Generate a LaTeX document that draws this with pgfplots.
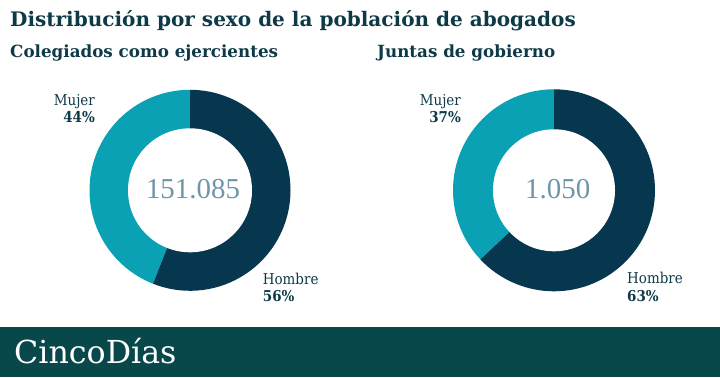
\documentclass[border=0pt]{standalone}
\usepackage{pgfplots}
\pgfplotsset{compat=1.18}
\usepackage{pgfplotstable}
\usepackage{fontspec}
\setmainfont{DejaVu Serif Condensed}
\newfontfamily\wide{DejaVu Serif}
\newfontfamily\numfont{Liberation Serif}
\definecolor{navy}{HTML}{07364F}
\definecolor{tealc}{HTML}{0AA1B4}
\definecolor{titlec}{HTML}{0E3A48}
\definecolor{numc}{HTML}{6E95A8}
\definecolor{footc}{HTML}{08474A}
\pgfplotstableread{
grupo hombre mujer
1 56 44
2 63 37
}\donuts
\begin{document}
\begin{tikzpicture}
\pgfplotstablegetelem{0}{hombre}\of\donuts\edef\hA{\pgfplotsretval}
\pgfplotstablegetelem{1}{hombre}\of\donuts\edef\hB{\pgfplotsretval}
\pgfmathsetmacro\eA{90-3.6*\hA}
\pgfmathsetmacro\eB{90-3.6*\hB}
\pgfmathsetmacro\mA{\eA+360}
\pgfmathsetmacro\mB{\eB+360}
\begin{axis}[scale only axis, width=720bp, height=377bp,
  xmin=0, xmax=720, ymin=0, ymax=377, hide axis, clip=false]
\fill[white] (axis cs:0,0) rectangle (axis cs:720,377);
\fill[footc] (axis cs:0,0) rectangle (axis cs:720,50);
% donut 1
\fill[tealc] (axis cs:190,186.7) -- ++(90:100.5bp) arc[start angle=90,end angle=\mA,radius=100.5bp] -- cycle;
\fill[navy] (axis cs:190,186.7) -- ++(90:100.5bp) arc[start angle=90,end angle=\eA,radius=100.5bp] -- cycle;
\fill[white] (axis cs:190,186.7) circle[radius=62bp];
% donut 2
\fill[tealc] (axis cs:554,186.7) -- ++(90:101bp) arc[start angle=90,end angle=\mB,radius=101bp] -- cycle;
\fill[navy] (axis cs:554,186.7) -- ++(90:101bp) arc[start angle=90,end angle=\eB,radius=101bp] -- cycle;
\fill[white] (axis cs:554,186.7) circle[radius=61bp];
% texts
\node[anchor=base west, inner sep=0, text=titlec, font=\wide\fontsize{20.1}{24}\selectfont\bfseries] at (axis cs:10,350) {Distribución por sexo de la población de abogados};
\node[anchor=base west, inner sep=0, text=titlec, font=\wide\fontsize{16.8}{20}\selectfont\bfseries] at (axis cs:10,319.7) {Colegiados como ejercientes};
\node[anchor=base west, inner sep=0, text=titlec, font=\wide\fontsize{16.8}{20}\selectfont\bfseries] at (axis cs:377,319.7) {Juntas de gobierno};
\node[anchor=base east, inner sep=0, text=titlec, font=\fontsize{15}{18}\selectfont] at (axis cs:95,271) {Mujer};
\node[anchor=base east, inner sep=0, text=titlec, font=\fontsize{15}{18}\selectfont\bfseries] at (axis cs:95,254) {44\%};
\node[anchor=base west, inner sep=0, text=titlec, font=\fontsize{15}{18}\selectfont] at (axis cs:262.7,92.7) {Hombre};
\node[anchor=base west, inner sep=0, text=titlec, font=\fontsize{15}{18}\selectfont\bfseries] at (axis cs:262.7,75.3) {56\%};
\node[anchor=base east, inner sep=0, text=titlec, font=\fontsize{15}{18}\selectfont] at (axis cs:461,271) {Mujer};
\node[anchor=base east, inner sep=0, text=titlec, font=\fontsize{15}{18}\selectfont\bfseries] at (axis cs:461,254) {37\%};
\node[anchor=base west, inner sep=0, text=titlec, font=\fontsize{15}{18}\selectfont] at (axis cs:627,94) {Hombre};
\node[anchor=base west, inner sep=0, text=titlec, font=\fontsize{15}{18}\selectfont\bfseries] at (axis cs:627,75.3) {63\%};
\node[anchor=base, inner sep=0, text=numc, font=\numfont\fontsize{29}{32}\selectfont] at (axis cs:193,178.7) {151.085};
\node[anchor=base, inner sep=0, text=numc, font=\numfont\fontsize{29}{32}\selectfont] at (axis cs:557.7,178.7) {1.050};
\node[anchor=base west, inner sep=0, text=white, font=\wide\fontsize{31.8}{34}\selectfont] at (axis cs:14,14) {CincoDías};
\end{axis}
\end{tikzpicture}
\end{document}
